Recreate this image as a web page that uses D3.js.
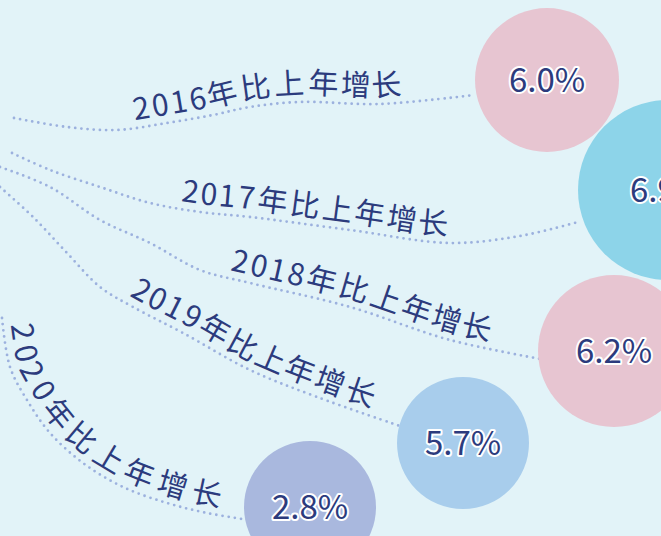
<!DOCTYPE html>
<html>
<head>
<meta charset="utf-8">
<script src="https://cdn.jsdelivr.net/npm/d3@7"></script>
<style>
  html, body { margin: 0; padding: 0; background: #e2f3f8; overflow: hidden; }
</style>
</head>
<body>
<script>
// data
const years = ["2016", "2017", "2018", "2019", "2020"];
const growth = [6.0, 6.9, 6.2, 5.7, 2.8];
const caption = "年比上年增长";
const bubbleColors = ["#e7c5d1", "#8dd4e9", "#e7c5d1", "#a8cdec", "#a9b8de"];

// layout (bubble centres, dotted routes, where each caption starts)
const centers = [[547, 80], [668, 190], [614, 351], [463, 443], [310, 507]];
const routes = [
  [[14, 118], [67, 127], [117, 130], [167, 123], [213, 115], [250, 107], [300, 102], [380, 104], [474, 95]],
  [[12, 153], [50, 170], [100, 187], [150, 203], [200, 212], [250, 217], [350, 230], [450, 243], [520, 236], [578, 222]],
  [[0, 167], [50, 187], [100, 220], [150, 243], [200, 270], [250, 283], [350, 307], [450, 340], [546, 360]],
  [[0, 187], [33, 217], [67, 253], [100, 287], [133, 307], [183, 333], [250, 370], [317, 397], [400, 426]],
  [[2, 318], [10, 367], [27, 400], [50, 433], [83, 463], [123, 487], [167, 503], [207, 513], [249, 520]]
];
const textStarts = [[135, 120], [180, 207], [228, 278], [125, 303], [4, 326]];
const spacing = [2.5, 2.5, 2.5, 2.5, 7];

const width = 661, height = 536;

const svg = d3.select("body").append("svg")
  .attr("width", width)
  .attr("height", height)
  .style("display", "block");

const r = d3.scaleLinear().domain([5.7, 6.9]).range([66, 90]).clamp(true);
const fmt = d3.format(".1f");
const line = d3.line().curve(d3.curveCatmullRom.alpha(0.5));

const rows = years.map((y, i) => ({
  year: y, value: growth[i], color: bubbleColors[i],
  cx: centers[i][0], cy: centers[i][1], route: routes[i],
  start: textStarts[i], ls: spacing[i]
}));

const paths = svg.append("g")
  .selectAll("path")
  .data(rows)
  .join("path")
  .attr("id", (d, i) => "route" + i)
  .attr("d", d => line(d.route))
  .attr("fill", "none")
  .attr("stroke", "#9cb1de")
  .attr("stroke-width", 2.8)
  .attr("stroke-linecap", "round")
  .attr("stroke-dasharray", "0 6.2");

// distance along a route closest to the caption start point
function offsetFor(node, pt) {
  const total = node.getTotalLength();
  let best = 0, bestD = Infinity;
  for (let s = 0; s <= total; s += 1) {
    const p = node.getPointAtLength(s);
    const dd = (p.x - pt[0]) ** 2 + (p.y - pt[1]) ** 2;
    if (dd < bestD) { bestD = dd; best = s; }
  }
  return best;
}

const captions = svg.append("g")
  .selectAll("text")
  .data(rows)
  .join("text")
  .attr("dy", -8)
  .attr("font-family", "'Noto Sans CJK SC', 'Noto Sans', sans-serif")
  .attr("font-size", 30)
  .attr("letter-spacing", d => d.ls)
  .attr("fill", "#2c3b7d");

captions.append("textPath")
  .attr("href", (d, i) => "#route" + i)
  .attr("startOffset", (d, i) => offsetFor(paths.nodes()[i], d.start))
  .text(d => d.year + caption);

const bubble = svg.append("g")
  .selectAll("g")
  .data(rows)
  .join("g")
  .attr("transform", d => `translate(${d.cx},${d.cy})`);

bubble.append("circle")
  .attr("r", d => r(d.value))
  .attr("fill", d => d.color);

bubble.append("text")
  .attr("text-anchor", "middle")
  .attr("dy", "0.36em")
  .attr("font-family", "'Noto Sans CJK SC', 'Noto Sans', sans-serif")
  .attr("font-size", 33)
  .attr("fill", "#2c3b7d")
  .attr("stroke", "#ffffff")
  .attr("stroke-width", 4)
  .attr("stroke-linejoin", "round")
  .attr("paint-order", "stroke")
  .text(d => fmt(d.value) + "%");
</script>
</body>
</html>
